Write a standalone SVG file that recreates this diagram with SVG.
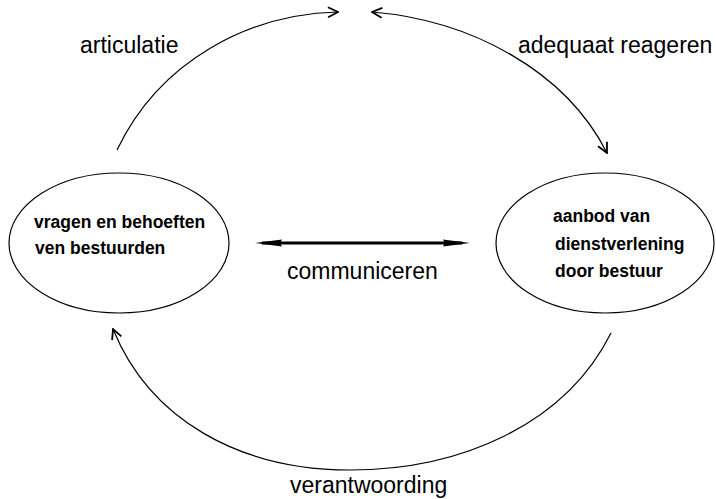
<svg xmlns="http://www.w3.org/2000/svg" width="716" height="499" viewBox="0 0 716 499">
<style>
.node{fill:none;stroke:#000;stroke-width:1.2}
.ntext{font-family:"Liberation Sans",Arial,sans-serif;font-weight:bold;font-size:17.5px;fill:#000}
.label{font-family:"Liberation Sans",Arial,sans-serif;font-size:23px;fill:#000}
.arc{fill:none;stroke:#000;stroke-width:1.2}
</style>
<defs>
<marker id="open" viewBox="0 0 12 12" refX="11" refY="6" markerWidth="12" markerHeight="12" markerUnits="userSpaceOnUse" orient="auto-start-reverse">
<path d="M1,1 L11,6 L1,11" fill="none" stroke="#000" stroke-width="1.8"/>
</marker>
</defs>
<rect width="716" height="499" fill="#fff"/>
<g id="connectors">
<path class="arc" d="M117,150 C160,60 250,14 338,12" marker-end="url(#open)"/>
<path class="arc" d="M372,12 C470,20 565,70 607,153" marker-start="url(#open)" marker-end="url(#open)"/>
<path class="arc" d="M611,333 C565,425 460,470 350,470 C240,470 150,420 113,329" marker-end="url(#open)"/>
<g id="communiceren">
<line x1="262" y1="243" x2="462" y2="243" stroke="#000" stroke-width="3"/>
<polygon points="255,243 282,239.5 280,243 282,246.5" fill="#000"/>
<polygon points="470,243 443,239.5 445,243 443,246.5" fill="#000"/>
</g>
</g>
<g id="node-vragen">
<ellipse class="node" cx="119" cy="243" rx="110" ry="70"/>
<text class="ntext" x="34" y="228" font-size="18">vragen en behoeften</text>
<text class="ntext" x="35" y="254" font-size="18">ven bestuurden</text>
</g>
<g id="node-aanbod">
<ellipse class="node" cx="605" cy="243" rx="109" ry="70"/>
<text class="ntext" x="553" y="222">aanbod van</text>
<text class="ntext" x="555" y="250">dienstverlening</text>
<text class="ntext" x="555" y="277">door bestuur</text>
</g>
<g id="labels">
<text class="label" x="80" y="53">articulatie</text>
<text class="label" x="518" y="53">adequaat reageren</text>
<text class="label" x="287" y="279">communiceren</text>
<text class="label" x="290" y="493" font-size="21.5">verantwoording</text>
</g>
</svg>
